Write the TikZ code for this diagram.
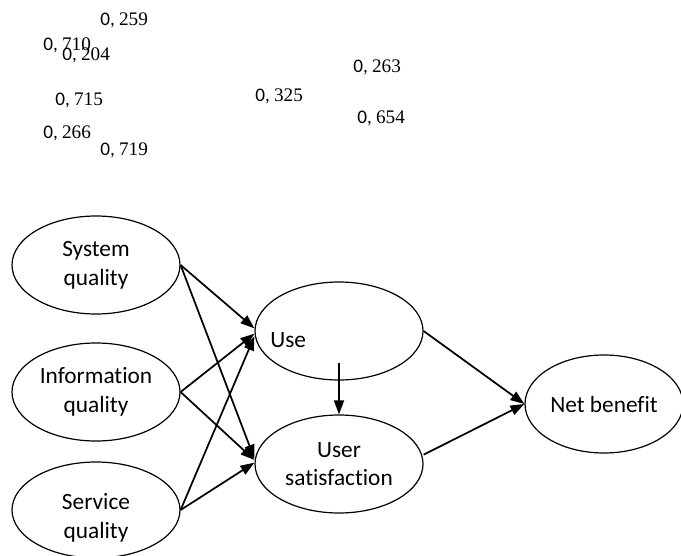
\documentclass[tikz,border=0pt]{standalone}
\usepackage{fontspec}
\setmainfont{Carlito}[Ligatures=NoCommon]
\newfontfamily\tms{Liberation Serif}
\usetikzlibrary{arrows.meta,shapes.geometric}
\begin{document}
\begin{tikzpicture}[x=0.75pt,y=-0.75pt,
  ell/.style={draw, ellipse, line width=0.9pt, minimum width=126pt, minimum height=73.5pt, inner sep=0pt, align=center, font=\fontsize{17.5}{21.5}\selectfont},
  lbl/.style={font=\fontsize{17.5}{21.5}\selectfont, inner sep=0pt, align=center},
  num/.style={anchor=west, inner sep=0pt, font=\fontsize{14.4}{16}\selectfont},
  arr/.style={line width=1.3pt, -{Triangle[length=10.5pt,width=7.5pt]}}]
\useasboundingbox (0,0) rectangle (681,556);
% coefficient labels
\node[num] (n1) at (100,20) {0, {\tms 259}};
\node[num] (n2) at (43,45) {0, {\tms 710}};
\node[num] (n3) at (62,55) {0, {\tms 204}};
\node[num] (n4) at (55,100) {0, {\tms 715}};
\node[num] (n5) at (43,133) {0, {\tms 266}};
\node[num] (n6) at (100,150) {0, {\tms 719}};
\node[num] (n7) at (255,96) {0, {\tms 325}};
\node[num] (n8) at (353,67) {0, {\tms 263}};
\node[num] (n9) at (357,118) {0, {\tms 654}};
% ellipses
\node[ell] (sys) at (96,265) {System\\quality};
\node[ell] (inf) at (96,392) {Information\\quality};
\node[ell, minimum height=72pt] (ser) at (96,510) {};
\node[lbl] (serlbl) at (96,518) {Service\\quality};
\node[ell] (use) at (339,331) {};
\node[lbl, anchor=west] (uselbl) at (270,340) {Use};
\node[ell] (usat) at (339,464) {User\\satisfaction};
\node[ell, minimum width=118.5pt] (net) at (604,404) {Net benefit};
% arrows
\draw[arr] (sys.east) -- ([yshift=2pt]use.west);
\draw[arr] (sys.east) -- ([yshift=4pt]usat.west);
\draw[arr] (inf.east) -- ([yshift=-2pt]use.west);
\draw[arr] (inf.east) -- ([yshift=3pt]usat.west);
\draw[arr] (ser.east) -- ([yshift=-4pt]use.west);
\draw[arr] (ser.east) -- ([yshift=1pt]usat.west);
\draw[arr] ([yshift=13.5pt]use.south) -- (usat.north);
\draw[arr] (use.east) -- (net.west);
\draw[arr] ([yshift=7pt]usat.east) -- (net.west);
\end{tikzpicture}
\end{document}
